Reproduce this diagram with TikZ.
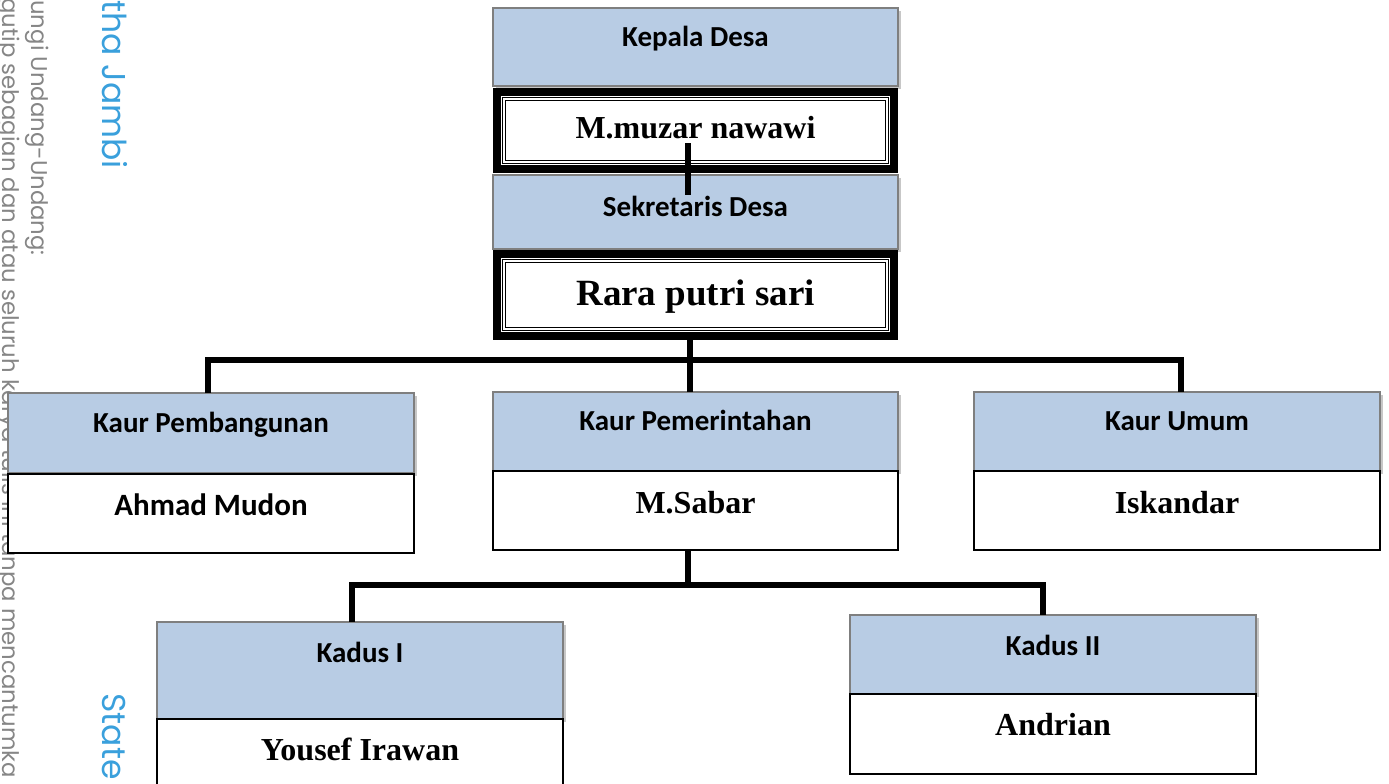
\documentclass[tikz,border=0pt]{standalone}
\usepackage{fontspec}
\setmainfont{Liberation Serif}
\newfontfamily\carlito{Carlito}
\newfontfamily\wmfont{Poppins}
\usetikzlibrary{shadows}
\definecolor{hblue}{HTML}{B8CCE4}
\definecolor{hgray}{HTML}{7F7F7F}
\definecolor{wmgray}{HTML}{868686}
\definecolor{wmblue}{HTML}{3AA0DC}
\tikzset{
  hd/.style={draw=hgray, line width=1pt, fill=hblue, inner sep=0pt, outer sep=0pt, minimum width=202.5pt,
    general shadow={fill=black!22, shadow xshift=1.6pt, shadow yshift=-1.6pt}},
  nm/.style={draw=black, line width=0.9pt, fill=white, inner sep=0pt, outer sep=0pt, minimum width=202.5pt},
  thk/.style={draw=black, line width=3.8pt, fill=white, inner sep=0pt, outer sep=0pt, minimum width=198.7pt},
  innerbox/.style={draw=black, line width=0.6pt, double=white, double distance=1pt},
  conn/.style={draw=black, line width=3.2pt},
  hfont/.style={font=\carlito\bfseries\fontsize{14.5}{17}\selectfont, anchor=base},
  sfont/.style={font=\bfseries\fontsize{16}{19}\selectfont, anchor=base},
  wm/.style={rotate=-90, anchor=base west, inner sep=0pt},
}
\begin{document}
\begin{tikzpicture}[x=0.5pt,y=-0.5pt]
\useasboundingbox (0,0) rectangle (1389,783);
\clip (0,0) rectangle (1389,783);
% watermark
\node[wm, text=wmgray, font=\wmfont\fontsize{11.4}{13}\selectfont] (wm1) at (32,0) {ungi Undang-Undang:};
\node[wm, text=wmgray, font=\wmfont\fontsize{11.4}{13}\selectfont] (wm2) at (3,-2) {gutip sebagian dan atau seluruh karya tulis ini tanpa mencantumka};
\node[wm, text=wmblue, font=\wmfont\fontsize{16.5}{20}\selectfont] (wm3) at (102,0) {tha Jambi};
\node[wm, text=wmblue, font=\wmfont\fontsize{16.5}{20}\selectfont] (wm4) at (102,693) {State};
% top column
\node[hd, minimum height=39pt, label={[hfont, yshift=-19pt]north:Kepala Desa}] (kepala) at (695.5,47) {};
\node[thk, minimum height=38.7pt, label={[sfont, yshift=-23.25pt]north:M.muzar nawawi}] (muzar) at (695.5,130.5) {};
\draw[innerbox] ([xshift=3.6pt,yshift=-3.6pt]muzar.north west) rectangle ([xshift=-3.6pt,yshift=3.6pt]muzar.south east);
\node[hd, minimum height=37pt, label={[hfont, yshift=-20.5pt]north:Sekretaris Desa}] (sek) at (695.5,212) {};
\node[thk, minimum height=41.2pt, label={[sfont, font=\bfseries\fontsize{18.5}{22}\selectfont, yshift=-25.75pt]north:Rara putri sari}] (rara) at (695.5,295) {};
\draw[innerbox] ([xshift=3.6pt,yshift=-3.6pt]rara.north west) rectangle ([xshift=-3.6pt,yshift=3.6pt]rara.south east);
% kaur row
\node[hd, minimum width=203pt, minimum height=40pt, label={[hfont, yshift=-19.8pt]north:Kaur Pembangunan}] (kpb) at (211,433) {};
\node[nm, minimum width=203pt, minimum height=39.5pt, label={[hfont, font=\carlito\bfseries\fontsize{15.5}{18}\selectfont, yshift=-20.8pt]north:Ahmad Mudon}] (kpbn) at (211,513.5) {};
\node[hd, minimum height=39.5pt, label={[hfont, yshift=-19pt]north:Kaur Pemerintahan}] (kpm) at (695.5,431.5) {};
\node[nm, minimum height=39.5pt, label={[sfont, yshift=-21.25pt]north:M.Sabar}] (kpmn) at (695.5,510.5) {};
\node[hd, minimum width=203pt, minimum height=39.5pt, label={[hfont, yshift=-19pt]north:Kaur Umum}] (kum) at (1177,431.5) {};
\node[nm, minimum width=203pt, minimum height=39.5pt, label={[sfont, yshift=-21.25pt]north:Iskandar}] (kumn) at (1177,510.5) {};
% kadus row
\node[hd, minimum width=203pt, minimum height=48.5pt, label={[hfont, yshift=-20.3pt]north:Kadus I}] (kd1) at (360,670.5) {};
\node[nm, minimum width=203pt, minimum height=40.5pt, label={[sfont, yshift=-20.5pt]north:Yousef Irawan}] (kd1n) at (360,759.5) {};
\node[hd, minimum width=203pt, minimum height=39.5pt, label={[hfont, yshift=-20pt]north:Kadus II}] (kd2) at (1053,654.5) {};
\node[nm, minimum width=203pt, minimum height=40pt, label={[sfont, yshift=-20.85pt]north:Andrian}] (kd2n) at (1053,734) {};
% connectors
\coordinate (m1) at ([xshift=-3.75pt,yshift=-6.25pt]muzar.center);
\coordinate (m2) at ([xshift=-3.75pt,yshift=8.5pt]sek.center);
\draw[conn] (m1) -- (m2);
\draw[conn] ([xshift=-2.75pt]rara.south) -- ([xshift=-2.75pt]kpm.north);
\draw[conn] ([xshift=-1.5pt]kpb.north) -- ++(0,-33) -| ([xshift=2pt]kum.north);
\draw[conn] ([xshift=-3.75pt]kpmn.south) -- ++(0,35) coordinate (bus2);
\draw[conn] ([xshift=-4.15pt]kd1.north) -- ++(0,-37) -| ([xshift=-5pt]kd2.north);
\end{tikzpicture}
\end{document}
